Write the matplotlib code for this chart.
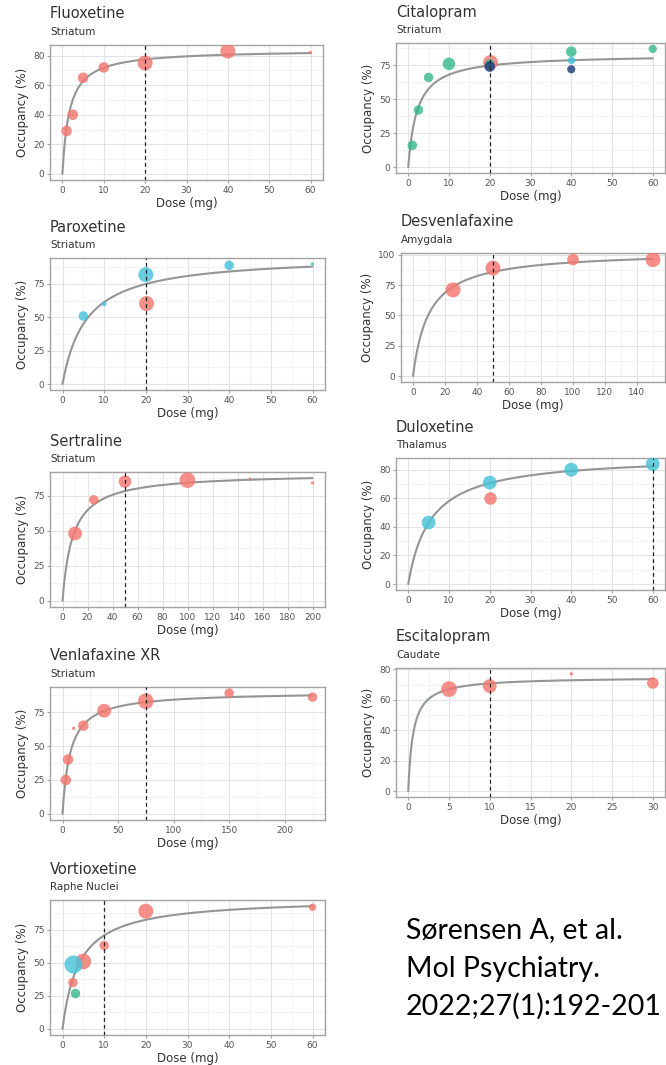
"""
Dose vs. SERT occupancy, one panel per antidepressant
"""
import numpy as np
import matplotlib.pyplot as plt
from matplotlib.ticker import MultipleLocator, AutoMinorLocator

# ---------------------------------------------------------------------
# occupancy data per drug: dose (mg), occupancy (%), subjects, study group
fluox_dose = [1, 2.5, 5, 10, 20, 40, 60]
fluox_occ = [29, 40, 65, 72, 75, 83, 82]
fluox_n = [10, 10, 10, 10, 20, 20, 1]
fluox_grp = ["r", "r", "r", "r", "r", "r", "r"]
fluox_fit = (84, 1.7)          # Emax, ED50

cital_dose = [1, 2.5, 5, 10, 20, 20, 20, 40, 40, 40, 60]
cital_occ = [16, 42, 66, 76, 77, 76, 74, 85, 79, 72, 87]
cital_n = [8, 8, 8, 14, 20, 8, 10, 10, 5, 6, 6]
cital_grp = ["g", "g", "g", "g", "r", "g", "b", "g", "c", "b", "g"]
cital_fit = (83, 2.2)

parox_dose = [5, 10, 20, 20, 40, 60]
parox_occ = [51, 60, 82, 61, 89, 90]
parox_n = [8, 2, 20, 20, 8, 1]
parox_grp = ["c", "c", "c", "r", "c", "c"]
parox_fit = (96.4, 5.7)

desv_dose = [25, 50, 100, 150]
desv_occ = [71, 89, 96, 96]
desv_n = [20, 20, 12, 20]
desv_grp = ["r", "r", "r", "r"]
desv_fit = (103, 10.0)

sert_dose = [10, 25, 50, 100, 150, 200]
sert_occ = [48, 72, 85, 86, 87, 84]
sert_n = [17, 8, 14, 22, 0.5, 1]
sert_grp = ["r", "r", "r", "r", "r", "r"]
sert_fit = (91, 8.2)

dulox_dose = [5, 20, 20, 40, 60]
dulox_occ = [43, 71, 60, 80, 84]
dulox_n = [17, 17, 14, 17, 17]
dulox_grp = ["c", "c", "r", "c", "c"]
dulox_fit = (90, 5.5)

venla_dose = [3, 5, 10, 18.75, 37.5, 75, 150, 225]
venla_occ = [25, 40, 63, 65, 76, 83, 89, 86]
venla_n = [10, 10, 1, 10, 17, 22, 8, 8]
venla_grp = ["r", "r", "r", "r", "r", "r", "r", "r"]
venla_fit = (90, 7.0)

escit_dose = [5, 10, 20, 30]
escit_occ = [67, 69, 77, 71]
escit_n = [22, 17, 1, 12]
escit_grp = ["r", "r", "r", "r"]
escit_fit = (75, 0.6)

vort_dose = [2.5, 2.5, 3, 5, 10, 20, 60]
vort_occ = [49, 35, 27, 51, 63, 89, 92]
vort_n = [29, 8, 8, 22, 8, 20, 5]
vort_grp = ["c", "r", "g", "r", "r", "r", "r"]
vort_fit = (99, 4.0)

drugs = ["Fluoxetine", "Citalopram", "Paroxetine", "Desvenlafaxine",
         "Sertraline", "Duloxetine", "Venlafaxine XR", "Escitalopram",
         "Vortioxetine"]
regions = ["Striatum", "Striatum", "Striatum", "Amygdala", "Striatum",
           "Thalamus", "Striatum", "Caudate", "Raphe Nuclei"]
ref_dose = [20, 20, 20, 50, 50, 60, 75, 10, 10]
y_step = [20, 25, 25, 25, 25, 20, 25, 20, 25]
x_step = [10, 10, 10, 20, 20, 10, 50, 5, 10]

cite_lines = ["Sørensen A, et al.", "Mol Psychiatry.", "2022;27(1):192-201"]

data = [(fluox_dose, fluox_occ, fluox_n, fluox_grp, fluox_fit),
        (cital_dose, cital_occ, cital_n, cital_grp, cital_fit),
        (parox_dose, parox_occ, parox_n, parox_grp, parox_fit),
        (desv_dose, desv_occ, desv_n, desv_grp, desv_fit),
        (sert_dose, sert_occ, sert_n, sert_grp, sert_fit),
        (dulox_dose, dulox_occ, dulox_n, dulox_grp, dulox_fit),
        (venla_dose, venla_occ, venla_n, venla_grp, venla_fit),
        (escit_dose, escit_occ, escit_n, escit_grp, escit_fit),
        (vort_dose, vort_occ, vort_n, vort_grp, vort_fit)]

# ---------------------------------------------------------------------
W, H = 666, 1065
colours = {"r": "#F4776F", "g": "#38B98C", "c": "#45C3D8", "b": "#1F3B7C"}

# panel boxes in pixels: left, top, right, bottom
boxes = [(50, 45, 323, 180), (396, 43, 665, 173),
         (50, 258, 325, 390), (401, 253, 665, 382),
         (50, 472, 325, 607), (396, 458, 665, 590),
         (50, 687, 325, 820), (396, 668, 665, 797),
         (50, 900, 325, 1035)]

fig = plt.figure(figsize=(W / 100, H / 100), dpi=100)
fig.patch.set_facecolor("white")

for k, (dose, occ, n, grp, fit) in enumerate(data):
    l, t, r, b = boxes[k]
    ax = fig.add_axes([l / W, 1 - b / H, (r - l) / W, (b - t) / H])

    emax, ed50 = fit
    xmax = max(dose)
    xx = np.linspace(0, xmax, 400)
    yy = emax * xx / (xx + ed50)

    hi = max(max(occ), yy.max())
    ax.set_xlim(-0.05 * xmax, 1.05 * xmax)
    ax.set_ylim(-0.05 * hi, 1.05 * hi)

    ax.plot(xx, yy, color="#939694", lw=1.5, zorder=2, solid_capstyle="round")
    ax.axvline(ref_dose[k], color="#222222", lw=0.9, ls=(0, (3, 2.5)), zorder=4)

    for g in ["r", "g", "c", "b"]:
        idx = [i for i in range(len(dose)) if grp[i] == g]
        if not idx:
            continue
        ax.scatter([dose[i] for i in idx], [occ[i] for i in idx],
                   s=[5.8 * n[i] for i in idx], color=colours[g],
                   alpha=0.82, lw=0, zorder=3)

    ax.xaxis.set_major_locator(MultipleLocator(x_step[k]))
    ax.yaxis.set_major_locator(MultipleLocator(y_step[k]))
    ax.xaxis.set_minor_locator(AutoMinorLocator(2))
    ax.yaxis.set_minor_locator(AutoMinorLocator(2))
    ax.grid(which="major", color="#E3E3E3", lw=0.8)
    ax.grid(which="minor", color="#F1F1F1", lw=0.6)
    ax.set_axisbelow(True)

    for sp in ax.spines.values():
        sp.set_color("#A3A3A3")
        sp.set_linewidth(1.0)
    ax.tick_params(which="major", length=2.5, width=0.8, color="#A3A3A3",
                   labelsize=6.5, labelcolor="#555555", pad=1.5)
    ax.tick_params(which="minor", length=0)

    ax.set_xlabel("Dose (mg)", fontsize=8.5, color="#333333", labelpad=1.5)
    ax.set_ylabel("Occupancy (%)", fontsize=8.5, color="#333333", labelpad=3)

    fig.text(l / W, 1 - (t - 31) / H, drugs[k], fontsize=10.5,
             color="#333333", ha="left", va="center")
    fig.text(l / W, 1 - (t - 13) / H, regions[k], fontsize=7.5,
             color="#333333", ha="left", va="center")

# citation, one line at a time
for i, line in enumerate(cite_lines):
    fig.text(406 / W, 1 - (938 + 38.5 * i) / H, line, fontsize=20.5,
             family="Lato", ha="left", va="baseline", color="black")

fig.savefig("out.png", dpi=100)
